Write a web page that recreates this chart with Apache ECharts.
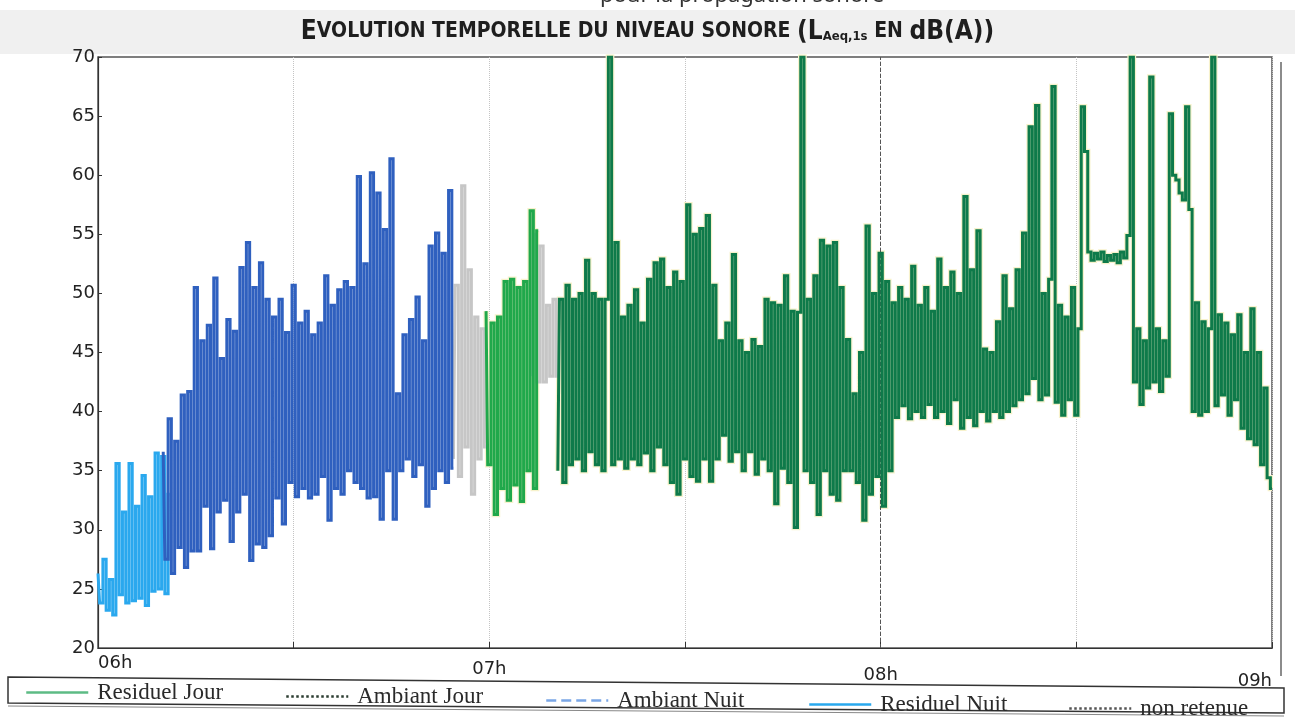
<!DOCTYPE html>
<html>
<head>
<meta charset="utf-8">
<title>Evolution temporelle du niveau sonore</title>
<script src="https://cdn.jsdelivr.net/npm/echarts@6/dist/echarts.min.js"></script>
<style>
html,body{margin:0;padding:0;background:#fff;}
#main{width:1295px;height:717px;}
</style>
</head>
<body>
<div id="main"></div>
<script>
// axe x en minutes depuis 06h
var hourLabels = ['06h', '07h', '08h', '09h'];
var pas = 0.5; // une valeur lue toutes les 30 s

// LAeq 1s (alternance haut / bas de la bande)
var residuelNuitDebut = 0;
var residuelNuit = [26.3, 23.8, 27.5, 23.2, 25.8, 22.8, 35.6, 24.5, 31.5, 23.8, 35.6, 24, 32, 24.2, 34.6, 23.6,
	32.8, 24.8, 36.5, 25, 36.2, 24.6, 33];

var ambiantNuitDebut = 10;
var ambiantNuit = [36.6, 27.5, 39.4, 26.3, 37.5, 28.5, 41.4, 26.8, 41.7, 28.2, 50.5, 28.2, 46, 32, 47.3, 28.4,
	51.3, 31.5, 44.5, 32.5, 47.8, 29, 46.8, 31.5, 52.2, 33, 54.3, 27.4, 50.5, 28.8, 52.6, 28.5,
	49.5, 29.5, 48, 32.7, 49.5, 30.5, 46.7, 34, 50.7, 32.8, 47.5, 33.5, 48.5, 32.7, 46.5, 33,
	47.5, 34.5, 51.5, 30.8, 49, 33.5, 50.3, 33, 51, 35, 50.5, 34, 59.9, 33.5, 52.5, 32.7,
	60.2, 32.8, 58.5, 30.9, 55.4, 35, 61.4, 30.9, 41.5, 35, 46.5, 36, 47.8, 34.5, 49.7, 35.5,
	46, 32, 54, 33.5, 55.1, 35, 53.4, 34, 58.7, 35.2];

var nonRetenueDebutA = 54.5;
var nonRetenueA = [36, 50.7, 34.5, 59.1, 37, 52, 33, 48, 36, 47, 37];
var nonRetenueDebutB = 66.5;
var nonRetenueB = [43, 55, 42.5, 54, 42.5, 49, 43, 49.5, 43];

var residuelJourDebut = 59.5;
var residuelJour = [48.5, 35.5, 47.5, 31.3, 48, 33.5, 51, 32.5, 51.2, 33.8, 50.5, 32.4, 51, 35, 57, 33.5, 55.3];

var ambiantJourDebut = 70.5;
var ambiantJour = [35, 49.5, 34, 50.7, 35.5, 49.5, 36, 50, 35, 52.8, 36.6, 50, 35.5, 49.5, 35, 49.5,
	70, 35.5, 54.3, 36, 48, 35.2, 49, 36, 50.3, 35.5, 47.5, 36.5, 51.2, 35, 52.6, 37,
	52.9, 35.5, 50.5, 34, 51.8, 33, 51, 36, 57.5, 34.5, 55, 34.1, 55.5, 36, 56.6, 34.1,
	50.7, 36, 46, 38, 47.5, 35.8, 53.3, 36.6, 46, 35, 45, 36.6, 46.1, 34.7, 45.5, 36,
	49.5, 35, 49.2, 32.2, 49, 35.2, 51.5, 34, 48.5, 30.2, 48.4, 70, 35, 49.5, 34, 51.5,
	31.3, 54.5, 35, 54, 33, 54.3, 32.5, 50.5, 35, 46.1, 35, 41.5, 34, 45, 30.8, 55.7,
	33, 50, 34.5, 53.4, 32, 51, 35, 49.2, 39.5, 50.5, 40.5, 49.5, 39.4, 52.3, 40, 49,
	39.5, 50.5, 40.6, 48.5, 39.5, 52.9, 40, 50.5, 39, 51.8, 41, 50, 38.6, 58.2, 39.5, 52,
	38.8, 55.3, 40, 45.3, 39.2, 45, 40, 47.6, 39.5, 51.5, 40, 48.7, 40.5, 52, 41, 55.1,
	41.5, 64.1, 42.8, 65.9, 41, 50, 41.4, 51.2, 67.5, 40.8, 49, 39.7, 48, 41, 50.5, 39.7,
	47, 65.8, 62, 53.5, 52.8, 53.4, 52.9, 53.5, 52.7, 53.2, 52.8, 53.3, 52.6, 53.5, 53, 54.9,
	70, 42.5, 47, 40.6, 46, 42, 68.3, 42.5, 47, 41.7, 46, 43, 65.2, 60, 59.6, 58.5,
	57.9, 65.8, 57.1, 40, 49.2, 39.7, 47.6, 40, 47, 70, 40.5, 48.2, 41.4, 47.5, 39.7, 46.5,
	41, 48.2, 38.6, 45, 37.7, 48.7, 37.2, 45, 35.5, 42, 34.4, 33.5];

function points(debut, valeurs){
	var out = [];
	for (var i = 0; i < valeurs.length; i++) {
		out.push([debut + i * pas, valeurs[i]]);
	}
	return out;
}

// trace en escalier : chaque seconde devient un trait vertical, comme sur l'original
function courbe(nom, couleur, data, largeur, z){
	return {
		name: nom,
		type: 'line',
		data: data,
		step: 'middle',
		symbol: 'none',
		showSymbol: false,
		sampling: 'none',
		z: z,
		lineStyle: {color: couleur, width: largeur, cap: 'butt', join: 'miter'},
		itemStyle: {color: couleur},
		emphasis: {disabled: true}
	};
}

function legende(nom, couleur, type, left, top){
	return {
		left: left,
		top: top,
		orient: 'horizontal',
		itemWidth: 62,
		itemHeight: 14,
		selectedMode: false,
		textStyle: {fontFamily: '"Liberation Serif", serif', fontSize: 23, color: '#2a2a2a', padding: [0, 0, 0, 4]},
		lineStyle: {color: couleur, width: 2.5, type: type},
		itemStyle: {color: 'transparent', borderWidth: 0, opacity: 0},
		data: [nom]
	};
}

var myChart = echarts.init(document.getElementById('main'), null, {renderer: 'canvas'});

// halo jaune pâle du scan autour des courbes jour
var halo = courbe('', '#f7f2cc', points(ambiantJourDebut, ambiantJour), 5.5, 1);
halo.silent = true;
var haloR = courbe('', '#f7f2cc', points(residuelJourDebut, residuelJour), 5.5, 1);
haloR.silent = true;

var jour = courbe('Ambiant Jour', '#0e7a4a', points(ambiantJourDebut, ambiantJour), 3, 6);
jour.markLine = {
	symbol: 'none', silent: true, label: {show: false},
	lineStyle: {color: '#555', type: 'dashed', width: 1},
	data: [{xAxis: 120}]
};

var option = {
	animation: false,
	backgroundColor: '#fff',
	title: {
		text: '{a|E}{b|VOLUTION TEMPORELLE DU NIVEAU SONORE }{a|(L}{s|Aeq,1s}{b| EN }{a|dB(A))}',
		left: 'center',
		top: 14,
		textStyle: {
			rich: {
				a: {fontFamily: '"Liberation Sans Narrow", "DejaVu Sans Condensed", sans-serif', fontWeight: 'bold', fontSize: 26, color: '#1e1e1e'},
				b: {fontFamily: '"Liberation Sans Narrow", "DejaVu Sans Condensed", sans-serif', fontWeight: 'bold', fontSize: 21, color: '#1e1e1e'},
				s: {fontFamily: '"Liberation Sans Narrow", "DejaVu Sans Condensed", sans-serif', fontWeight: 'bold', fontSize: 13, color: '#1e1e1e', padding: [10, 0, 0, 0]}
			}
		}
	},
	graphic: [
		{type: 'rect', silent: true, z: -1, shape: {x: 0, y: 10, width: 1295, height: 44}, style: {fill: 'rgba(0,0,0,0.06)'}},
		{type: 'text', silent: true, left: 600, top: -15, style: {text: 'pour la propagation sonore', font: '22px "Noto Sans", sans-serif', fill: '#333'}},
		{type: 'line', silent: true, shape: {x1: 1281, y1: 62, x2: 1281, y2: 676}, style: {stroke: '#666', lineWidth: 1.5}},
		{type: 'polygon', silent: true, shape: {points: [[8, 677], [1284, 688], [1284, 713], [8, 703]]}, style: {fill: 'none', stroke: '#333', lineWidth: 1.5}},
		{type: 'line', silent: true, shape: {x1: 8, y1: 706, x2: 1284, y2: 716}, style: {stroke: '#888', lineWidth: 1}}
	],
	legend: [
		legende('Residuel Jour', '#5dbb84', 'solid', 20, 676),
		legende('Ambiant Jour', '#2b3d30', 'dotted', 280, 680),
		legende('Ambiant Nuit', '#7aa6e6', 'dashed', 540, 684),
		legende('Residuel Nuit', '#29a8ee', 'solid', 803, 688),
		legende('non retenue', '#555', 'dotted', 1063, 692)
	],
	grid: {left: 98, right: 23, top: 57, bottom: 69, show: true, borderColor: '#555', borderWidth: 1.5, backgroundColor: 'transparent'},
	xAxis: {
		type: 'value',
		min: 0,
		max: 180,
		interval: 30,
		axisLine: {show: true, onZero: false, lineStyle: {color: '#333', width: 1.2}},
		axisTick: {show: true, inside: true, length: 6, lineStyle: {color: '#333'}},
		axisLabel: {
			margin: 6,
			alignMinLabel: 'left',
			alignMaxLabel: 'right',
			formatter: function(v){
				if (v % 60 !== 0) return '';
				var k = v / 60;
				return '{h' + k + '|' + hourLabels[k] + '}';
			},
			rich: {
				h0: {fontFamily: '"DejaVu Sans", sans-serif', fontSize: 18, color: '#222', padding: [0, 0, 0, 0]},
				h1: {fontFamily: '"DejaVu Sans", sans-serif', fontSize: 18, color: '#222', padding: [6, 0, 0, 0]},
				h2: {fontFamily: '"DejaVu Sans", sans-serif', fontSize: 18, color: '#222', padding: [12, 0, 0, 0]},
				h3: {fontFamily: '"DejaVu Sans", sans-serif', fontSize: 18, color: '#222', padding: [18, 0, 0, 0]}
			}
		},
		splitLine: {show: true, lineStyle: {color: '#c4c4c4', type: 'dotted', width: 1}}
	},
	yAxis: {
		type: 'value',
		min: 20,
		max: 70,
		interval: 5,
		axisLine: {show: true, lineStyle: {color: '#333', width: 1.2}},
		axisTick: {show: true, inside: true, length: 4, lineStyle: {color: '#333'}},
		axisLabel: {margin: 3, fontFamily: '"DejaVu Sans", sans-serif', fontSize: 18, color: '#222'},
		splitLine: {show: false}
	},
	series: [
		halo,
		haloR,
		courbe('non retenue', '#c6c6c6', points(nonRetenueDebutA, nonRetenueA), 3, 2),
		courbe('non retenue', '#c6c6c6', points(nonRetenueDebutB, nonRetenueB), 3, 2),
		courbe('Residuel Nuit', '#2aa8ee', points(residuelNuitDebut, residuelNuit), 3, 3),
		courbe('Ambiant Nuit', '#2f60bf', points(ambiantNuitDebut, ambiantNuit), 3, 4),
		courbe('Residuel Jour', '#20a84b', points(residuelJourDebut, residuelJour), 3, 5),
		jour
	]
};
myChart.setOption(option);
</script>
</body>
</html>
